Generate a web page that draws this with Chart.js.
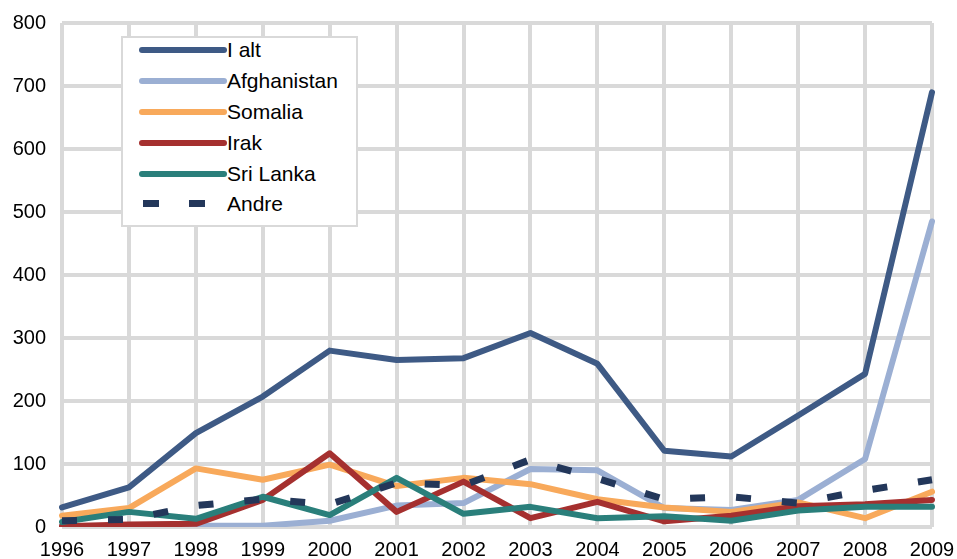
<!DOCTYPE html>
<html>
<head>
<meta charset="utf-8">
<script src="https://cdn.jsdelivr.net/npm/chart.js@4/dist/chart.umd.min.js"></script>
<style>
  html, body { margin: 0; padding: 0; background: #fff; }
  #wrap { position: relative; width: 957px; height: 559px; overflow: hidden; }
  #c { position: absolute; left: 0; top: 0; }
  #legend { position: absolute; left: 121px; top: 36px; width: 233px; height: 187px;
            border: 2px solid #d9d9d9; background: #fff; font-family: "Liberation Sans", Arial, sans-serif;
            font-size: 21px; color: #000; }
  .row { position: absolute; left: 0; height: 24px; width: 100%; }
  .sample { position: absolute; left: 16px; width: 88px; height: 6px; border-radius: 3px; top: 9px; }
  .dash { position: absolute; height: 7px; width: 16px; top: 8px; }
  .lbl { position: absolute; left: 104px; top: 0; line-height: 24px; white-space: nowrap; }
</style>
</head>
<body>
<div id="wrap">
  <canvas id="c" width="957" height="559"></canvas>
  <div id="legend"></div>
</div>
<script>
const years = ["1996","1997","1998","1999","2000","2001","2002","2003","2004","2005","2006","2007","2008","2009"];
const yTicks = [0, 100, 200, 300, 400, 500, 600, 700, 800];

const iAlt        = [31, 63, 149, 207, 280, 265, 268, 308, 259, 121, 112, 177, 243, 690];
const afghanistan = [1, 2, 2, 2, 10, 34, 38, 92, 90, 30, 27, 43, 108, 485];
const somalia     = [18, 30, 93, 75, 99, 65, 78, 68, 44, 31, 24, 39, 14, 56];
const irak        = [1, 4, 5, 43, 117, 24, 72, 14, 40, 9, 18, 33, 36, 43];
const sriLanka    = [8, 24, 13, 48, 19, 78, 21, 32, 14, 17, 10, 26, 32, 32];
const andre       = [10, 12, 34, 44, 36, 70, 66, 107, 77, 44, 48, 38, 58, 75];

const seriesNames = ["I alt", "Afghanistan", "Somalia", "Irak", "Sri Lanka", "Andre"];
const seriesData  = [iAlt, afghanistan, somalia, irak, sriLanka, andre];
const seriesColors = ["#3E5A85", "#9BAFD3", "#F8A95B", "#A5302F", "#2A7F7B", "#23375A"];

const FONT = '"Liberation Sans", Arial, sans-serif';

const datasets = seriesNames.map((name, i) => {
  const dashed = name === "Andre";
  return {
    label: name,
    data: seriesData[i],
    borderColor: seriesColors[i],
    backgroundColor: seriesColors[i],
    borderWidth: dashed ? 7 : 6,
    borderDash: dashed ? [15, 31] : [],
    borderCapStyle: dashed ? 'butt' : 'round',
    borderJoinStyle: 'round',
    pointRadius: 0,
    pointHoverRadius: 0,
    tension: 0,
    fill: false,
    order: seriesNames.length - 1 - i
  };
});

new Chart(document.getElementById('c'), {
  type: 'line',
  data: { labels: years, datasets },
  options: {
    responsive: false,
    animation: false,
    devicePixelRatio: 1,
    layout: { padding: { top: 23, right: 25, bottom: 0, left: 0 } },
    plugins: { legend: { display: false }, tooltip: { enabled: false } },
    scales: {
      x: {
        offset: false,
        grid: { color: '#d9d9d9', lineWidth: 4, drawTicks: false },
        border: { display: false },
        ticks: { color: '#000', font: { family: FONT, size: 20 }, padding: 11, maxRotation: 0, autoSkip: false },
        afterFit: s => { s.height = 32; s.paddingLeft = 0; s.paddingRight = 0; }
      },
      y: {
        min: 0, max: 800,
        grid: { color: '#d9d9d9', lineWidth: 4, drawTicks: false },
        border: { display: false },
        afterBuildTicks: s => { s.ticks = yTicks.map(v => ({ value: v })); },
        ticks: { color: '#000', font: { family: FONT, size: 20 }, padding: 16 },
        afterFit: s => { s.width = 62; s.paddingTop = 0; s.paddingBottom = 0; }
      }
    }
  }
});

// legend
const leg = document.getElementById('legend');
const rowTops = [0, 31, 62, 93, 124, 154];
seriesNames.forEach((name, i) => {
  const row = document.createElement('div');
  row.className = 'row';
  row.style.top = (rowTops[i]) + 'px';
  if (name === "Andre") {
    [20, 66].forEach(x => {
      const d = document.createElement('div');
      d.className = 'dash';
      d.style.left = x + 'px';
      d.style.background = seriesColors[i];
      row.appendChild(d);
    });
  } else {
    const s = document.createElement('div');
    s.className = 'sample';
    s.style.background = seriesColors[i];
    row.appendChild(s);
  }
  const l = document.createElement('div');
  l.className = 'lbl';
  l.textContent = name;
  row.appendChild(l);
  leg.appendChild(row);
});
</script>
</body>
</html>
